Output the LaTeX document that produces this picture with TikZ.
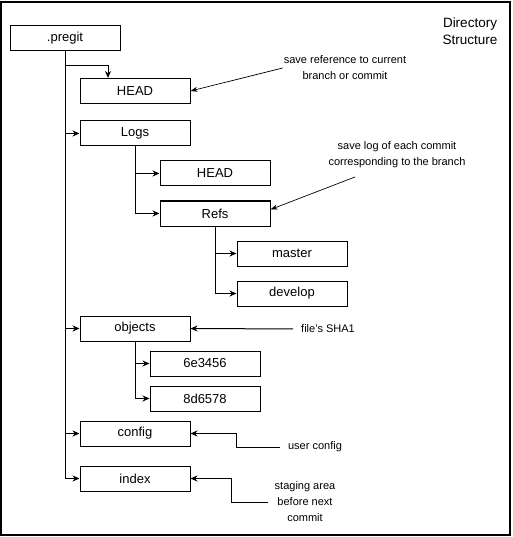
\documentclass[tikz,border=0pt]{standalone}
\usepackage{fontspec}
\setmainfont{Liberation Sans}
\usetikzlibrary{arrows.meta,positioning}

\begin{document}
\begin{tikzpicture}[x=1pt, y=-1pt,
	box/.style={draw, line width=1pt, minimum width=110pt, minimum height=25pt, inner sep=0pt, font=\fontsize{13}{15}\selectfont},
	note/.style={align=center, inner sep=1pt, font=\fontsize{11}{16}\selectfont},
	link/.style={line width=1pt, -{Stealth[length=7pt,width=6pt]}},
	hint/.style={line width=0.7pt, -{Stealth[length=7pt,width=5pt]}}]
			\useasboundingbox (0,0) rectangle (512,537);
			\draw[line width=1.5pt] (1,2) rectangle (510,535);
			
			\node[box] (pregit) at (65,38.5) {.pregit};
			\node[box] (head) at (135,91) {HEAD};
			\node[box] (logs) at (135,133.5) {Logs};
			\node[box] (logshead) at (215,173.5) {HEAD};
			\node[box] (refs) at (215,213.5) {Refs};
			\node[box] (master) at (292,253.5) {master};
			\node[box] (develop) at (292,293.5) {develop};
			\node[box] (objects) at (135,328.5) {objects};
			\node[box] (obja) at (205,363.5) {6e3456};
			\node[box] (objb) at (205,398.5) {8d6578};
			\node[box] (config) at (135,433.5) {config};
			\node[box] (index) at (135,478.5) {index};
			
			\node[align=center, font=\fontsize{13.5}{17}\selectfont] (title) at (470,31) {Directory\\Structure};
			\node[note] (notehead) at (345,68) {save reference to current\\branch or commit};
			\node[note] (noterefs) at (397,155) {save log of each commit\\corresponding to the branch};
			\node[note] (notesha) at (328,329) {file's SHA1};
			\node[note] (noteconfig) at (315,447) {user config};
			\node[note] (noteindex) at (305,502) {staging area\\before next\\commit};
			
			\coordinate (headturn) at (108,66);
			\coordinate (refsfrom) at (355,177);
			
			\draw[link] (pregit.south) |- (headturn) -- (headturn |- head.north);
			\draw[link] (pregit.south) |- (logs.west);
			\draw[link] (pregit.south) |- (objects.west);
			\draw[link] (pregit.south) |- (config.west);
			\draw[link] (pregit.south) |- (index.west);
			\draw[link] (logs.south) |- (logshead.west);
			\draw[link] (logs.south) |- (refs.west);
			\draw[link] (refs.south) |- (master.west);
			\draw[link] (refs.south) |- (develop.west);
			\draw[link] (objects.south) |- (obja.west);
			\draw[link] (objects.south) |- (objb.west);
			
			\draw[hint] (notehead.west) -- (head.east);
			\draw[hint] (refsfrom) -- ([yshift=4pt]refs.east);
			\draw[link, shorten <=7pt] (notesha.west) -- (objects.east);
			\draw[link, shorten <=7pt] (noteconfig.west) -| ([xshift=46pt]config.east) -- (config.east);
			\draw[link, shorten <=6pt] (noteindex.west) -| ([xshift=41pt]index.east) -- (index.east);
		\end{tikzpicture}
\end{document}
